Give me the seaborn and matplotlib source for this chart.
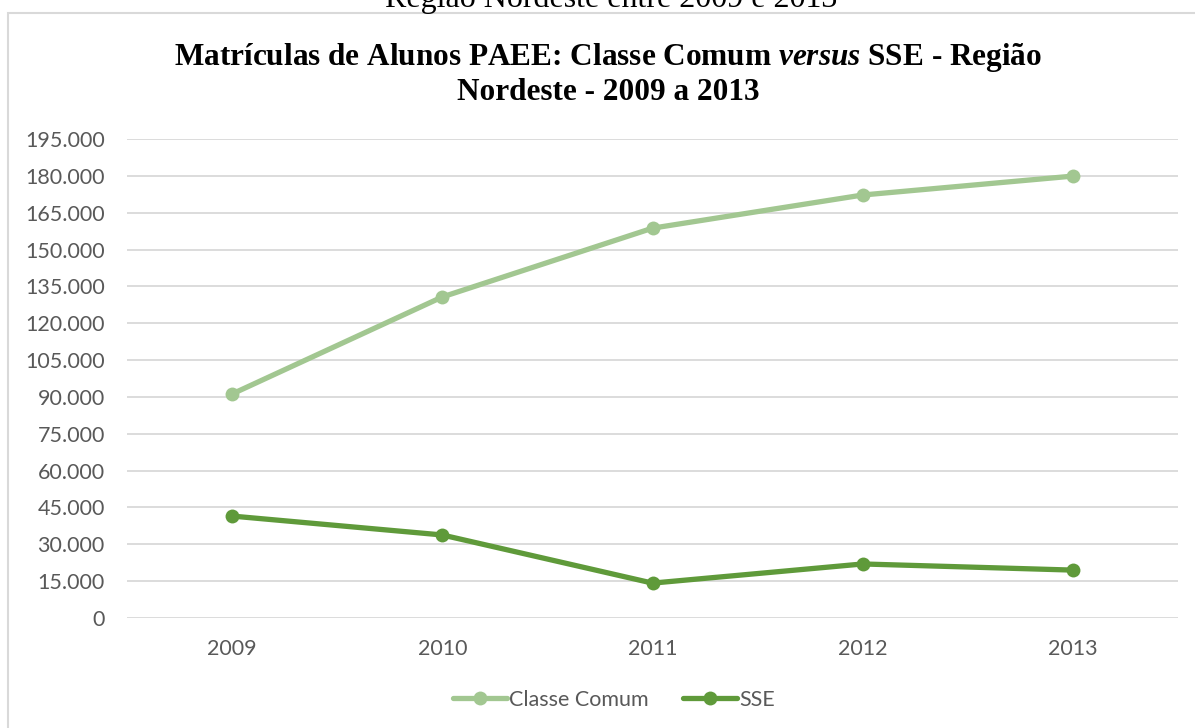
import pandas as pd
import numpy as np
import seaborn as sns
import matplotlib.pyplot as plt
from matplotlib.patches import Rectangle
from matplotlib.ticker import FuncFormatter

years = ['2009', '2010', '2011', '2012', '2013']
classe_comum = [91200, 130700, 158700, 172200, 179900]
sse = [41500, 33800, 14200, 22000, 19500]
series_names = ['Classe Comum', 'SSE']
y_ticks = list(range(0, 195001, 15000))

df = pd.DataFrame({
    'Ano': years * 2,
    'Matriculas': classe_comum + sse,
    'Serie': [series_names[0]] * len(years) + [series_names[1]] * len(years),
})

sns.set_theme(style='white')
plt.rcParams['font.family'] = ['Lato', 'DejaVu Sans']
plt.rcParams['mathtext.fontset'] = 'custom'
plt.rcParams['mathtext.it'] = 'Liberation Serif:italic:bold'
plt.rcParams['mathtext.rm'] = 'Liberation Serif:bold'

fig = plt.figure(figsize=(11.95, 7.28), dpi=100)
ax = fig.add_axes([127 / 1195, 1 - 618 / 728, (1178 - 127) / 1195, (618 - 139) / 728])

palette = {'Classe Comum': '#a2c791', 'SSE': '#5f9a3a'}
sns.lineplot(data=df, x='Ano', y='Matriculas', hue='Serie', palette=palette,
             marker='o', markersize=10, markeredgewidth=0, linewidth=3.8,
             sort=False, ax=ax)

ax.set_ylim(0, 195000)
ax.set_xlim(-0.5, 4.5)
ax.set_yticks(y_ticks)
ax.yaxis.set_major_formatter(FuncFormatter(lambda v, p: f'{int(v):,}'.replace(',', '.')))
ax.grid(axis='y', color='#d9d9d9', linewidth=1.3)
ax.set_axisbelow(True)
for s in ax.spines.values():
    s.set_visible(False)
ax.tick_params(axis='both', colors='#595959', labelsize=15.5, length=0)
ax.tick_params(axis='y', pad=16)
ax.tick_params(axis='x', pad=15)
ax.set_xlabel('')
ax.set_ylabel('')

handles, labels = ax.get_legend_handles_labels()
ax.legend(handles, labels, loc='center', bbox_to_anchor=(614 / 1195, 1 - 700 / 728),
          bbox_transform=fig.transFigure, ncol=2, frameon=False, fontsize=15.5,
          labelcolor='#595959', handlelength=2.5, handletextpad=0.1, columnspacing=1.6)

fig.text(608 / 1195, 1 - 74 / 728,
         'Matrículas de Alunos PAEE: Classe Comum $\\it{versus}$ SSE - Região\nNordeste - 2009 a 2013',
         ha='center', va='center', fontsize=22.5, fontweight='bold', color='black',
         family='Liberation Serif', linespacing=1.2)
# caption of the document, cut off by the top edge as in the source image
fig.text(611 / 1195, 1 - 7 / 728, 'Região Nordeste entre 2009 e 2013',
         ha='center', va='baseline', fontsize=23, color='black', family='Liberation Serif')

fig.patches.append(Rectangle((8 / 1195, -0.01), 1.0, 1 - 13 / 728 + 0.01,
                             transform=fig.transFigure, fill=False,
                             edgecolor='#d9d9d9', linewidth=1.5))

plt.savefig('out.png', dpi=100)
